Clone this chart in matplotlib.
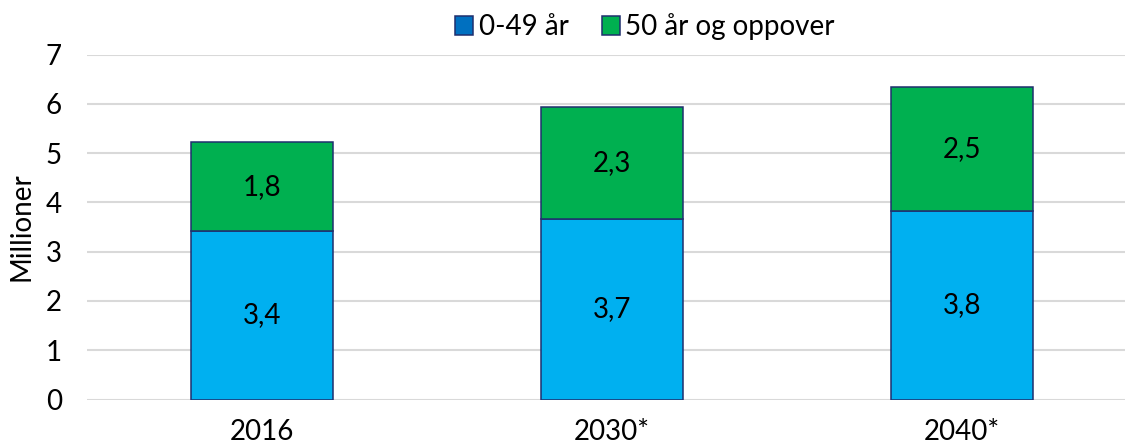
import numpy as np
import matplotlib.pyplot as plt
from matplotlib.patches import Patch

plt.rcParams['font.family'] = ['Lato', 'DejaVu Sans']

years = ['2016', '2030*', '2040*']
young = [3.41, 3.67, 3.83]
old = [1.82, 2.27, 2.52]
series_names = ['0-49 år', '50 år og oppover']

blue = '#00B0F0'
green = '#00B050'
edge = '#1F2F6E'
fs = 20

fig = plt.figure(figsize=(11.25, 4.47), dpi=100)
ax = fig.add_axes([87 / 1125, 47.5 / 447, 1050 / 1125, 345 / 447])

x = np.arange(len(years))
w = 0.403
ax.bar(x, young, w, color=blue, edgecolor=edge, linewidth=1.1, zorder=3)
ax.bar(x, old, w, bottom=young, color=green, edgecolor=edge, linewidth=1.1, zorder=3)

for i in range(len(years)):
    ax.text(x[i], young[i] / 2, f'{young[i]:.1f}'.replace('.', ','),
            ha='center', va='center', fontsize=fs, color='black', zorder=4)
    ax.text(x[i], young[i] + old[i] / 2, f'{old[i]:.1f}'.replace('.', ','),
            ha='center', va='center', fontsize=fs, color='black', zorder=4)

ax.set_xlim(-0.5, 2.5)
ax.set_ylim(0, 7)
ax.set_yticks(range(8))
ax.set_xticks(x)
ax.set_xticklabels(years)
ax.grid(axis='y', color='#D9D9D9', linewidth=1.5, zorder=0)
for s in ax.spines.values():
    s.set_visible(False)
ax.tick_params(axis='y', length=0, pad=18, labelsize=fs)
ax.tick_params(axis='x', length=0, pad=14, labelsize=fs)
ax.set_ylabel('Millioner', fontsize=fs)
ax.yaxis.set_label_coords(-52 / 1050, 0.5)

handles = [Patch(facecolor='#0070C0', edgecolor=edge, linewidth=1.1),
           Patch(facecolor=green, edgecolor=edge, linewidth=1.1)]
fig.legend(handles, series_names, loc='center', bbox_to_anchor=(645 / 1125, 1 - 27 / 447),
           ncol=2, frameon=False, fontsize=fs, handlelength=0.65, handleheight=0.65,
           handletextpad=0.2, columnspacing=1.2)

fig.savefig('out.png', dpi=100)
